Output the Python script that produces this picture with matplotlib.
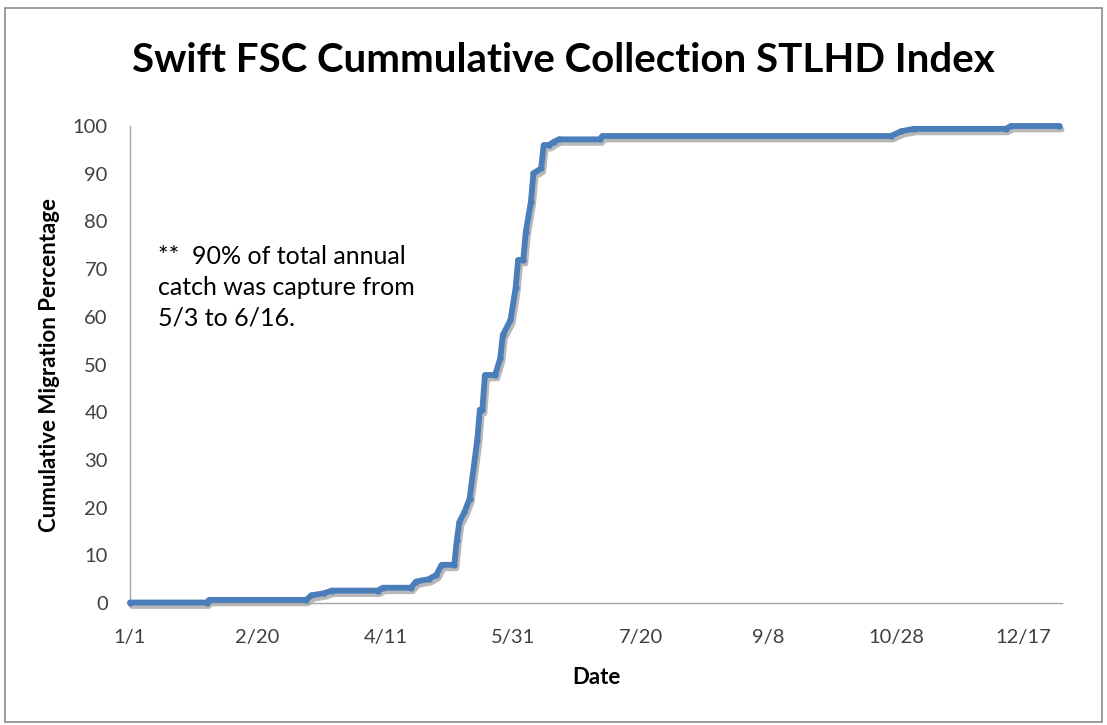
import matplotlib
matplotlib.use("Agg")
import matplotlib.pyplot as plt
import matplotlib.patheffects as pe
from matplotlib.patches import Rectangle

# ---- data (day of year offset from 1/1, cumulative %) ----
days = [0, 30, 31, 69, 71, 76, 79, 97, 99, 110, 112, 117, 120, 122, 127,
        128, 129, 131, 133, 136, 137, 138, 139, 143, 145, 146, 149, 151,
        152, 154, 155, 157, 158, 161, 162, 164, 166, 168, 184, 185, 298,
        302, 307, 343, 345, 364]
cum_pct = [0.1, 0.1, 0.65, 0.65, 1.6, 2.05, 2.6, 2.6, 3.2, 3.2, 4.5, 5.0,
           5.9, 8.0, 8.0, 13.2, 17.0, 19.1, 21.9, 34.2, 40.5, 40.5, 47.8,
           47.8, 51.3, 56.2, 59.3, 66.0, 71.9, 71.9, 77.8, 84.1, 90.1, 91.1,
           96.0, 96.0, 96.7, 97.2, 97.2, 97.9, 97.9, 98.9, 99.4, 99.4, 100.0,
           100.0]

tick_days = [0, 50, 100, 150, 200, 250, 300, 350]
tick_labels = ["1/1", "2/20", "4/11", "5/31", "7/20", "9/8", "10/28", "12/17"]
y_ticks = [0, 10, 20, 30, 40, 50, 60, 70, 80, 90, 100]

title = "Swift FSC Cummulative Collection STLHD Index"
note = "**  90% of total annual\ncatch was capture from\n5/3 to 6/16."

plt.rcParams['font.family'] = ['Lato', 'DejaVu Sans']

W, H = 1107, 725
fig = plt.figure(figsize=(W / 100, H / 100), dpi=100)
fig.patch.set_facecolor("white")

# outer chart frame
fig.patches.append(Rectangle((5 / W, 3 / H), 1097 / W, 714 / H,
                             transform=fig.transFigure, fill=False,
                             edgecolor="#8c8c8c", linewidth=1.2))

ax = fig.add_axes([130 / W, (H - 603) / H, (1062 - 130) / W, (603 - 126) / H])
ax.set_xlim(0, 365)
ax.set_ylim(0, 100)

line_color = "#4a7ebb"
# soft drop shadow under the series
ax.plot(days, cum_pct, color=line_color, linewidth=4.2, clip_on=False,
        solid_capstyle="round", solid_joinstyle="round", alpha=0.0,
        path_effects=[pe.SimpleLineShadow(offset=(1.5, -2.5), shadow_color="black",
                                          alpha=0.28, linewidth=4.2)])
ax.plot(days, cum_pct, color=line_color, linewidth=4.2, marker="o",
        markersize=4.5, markeredgewidth=0, solid_capstyle="round",
        solid_joinstyle="round", clip_on=False, zorder=3)

for s in ["top", "right"]:
    ax.spines[s].set_visible(False)
for s in ["left", "bottom"]:
    ax.spines[s].set_color("#a6a6a6")
    ax.spines[s].set_linewidth(1.0)

ax.set_xticks(tick_days)
ax.set_xticklabels(tick_labels)
ax.set_yticks(y_ticks)
ax.tick_params(axis="both", length=0, labelsize=14.5, colors="#404040")
ax.tick_params(axis="x", pad=19)
ax.tick_params(axis="y", pad=16)

ax.set_xlabel("Date", fontsize=16, fontweight="bold", labelpad=15)
ax.set_ylabel("Cumulative Migration Percentage", fontsize=16, fontweight="bold",
              labelpad=9)

fig.text(563 / W, 1 - 61 / H, title, ha="center", va="center",
         fontsize=29, fontweight="bold")

fig.text(158 / W, 1 - 245 / H, note, ha="left", va="top", fontsize=18,
         linespacing=1.42, color="black")

fig.savefig("out.png", dpi=100, facecolor="white")
